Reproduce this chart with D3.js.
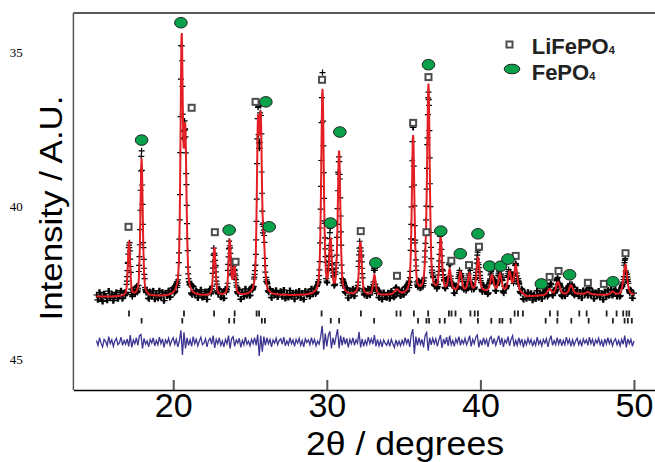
<!DOCTYPE html>
<html>
<head>
<meta charset="utf-8">
<script src="https://cdn.jsdelivr.net/npm/d3@7"></script>
<style>
  body { margin: 0; background: #fff; }
  text { font-family: "Liberation Sans", Arial, sans-serif; }
</style>
</head>
<body>
<div id="chart"></div>
<script>
  // peaks of the fitted profile: position (2theta), net height (counts), fwhm (deg)
  var peakPos    = [17.12, 17.94, 20.55, 20.78, 22.68, 23.68, 23.98, 25.52, 25.70, 25.90,
                    29.72, 30.24, 30.80, 32.19, 33.10, 34.55, 35.62, 36.45, 36.62, 37.42,
                    38.00, 38.70, 39.28, 39.85, 40.75, 41.28, 41.90, 42.30, 44.50, 45.05,
                    45.90, 47.00, 48.60, 49.44];
  var peakHeight = [102, 256, 464, 290, 89, 102, 52, 295, 295, 74,
                    381, 97, 266, 98, 37, 9, 293, 30, 381, 98,
                    39, 35, 32, 63, 30, 32, 35, 48, 11, 24,
                    17, 4, 6, 56];
  var peakWidth  = [0.17, 0.18, 0.18, 0.2, 0.18, 0.18, 0.18, 0.18, 0.18, 0.18,
                    0.2, 0.2, 0.2, 0.2, 0.2, 0.35, 0.2, 0.2, 0.2, 0.2,
                    0.22, 0.22, 0.22, 0.22, 0.24, 0.24, 0.24, 0.24, 0.3, 0.28,
                    0.28, 0.3, 0.3, 0.28];

  // background anchors
  var bgPos = [15, 20, 27, 33.5, 35, 37.7, 42.5, 43.0, 44, 46.5, 48, 50];
  var bgVal = [173, 173, 175, 175, 176, 182, 182, 173, 175, 178, 176, 176];

  // difference curve (obs - calc), 15.0 to 50.0 every 0.1 deg
  var diffVals = [
    3,-6,8,-2,-9,5,1,-7,10,-3,4,-8,2,7,-5,-1,9,-6,3,-4,
    6,-8,13,-10,4,-3,8,-6,12,14,-12,7,-4,2,-9,5,-2,8,-7,3,
    -5,9,-3,6,-10,4,-2,7,-6,3,8,-4,5,-9,2,22,-24,18,-12,8,
    -6,4,-8,10,-3,5,-7,2,9,-5,-2,6,-9,3,7,-4,12,-11,5,-3,
    8,-6,2,-9,5,-3,12,-12,6,10,-8,4,-2,7,-10,3,-5,9,-4,2,
    -7,5,-3,8,-6,14,-26,12,-18,10,-6,8,-3,5,-9,4,-2,7,-5,3,
    6,-4,9,-7,2,-5,8,-3,4,-8,5,-2,7,-6,3,-9,6,-1,4,-5,
    8,-3,5,-7,2,-4,10,30,-14,16,-8,12,20,-12,8,-5,10,24,-12,12,
    -6,9,-4,7,-10,5,-3,8,-6,4,-2,19,-10,6,-8,3,-5,9,-3,6,
    -4,13,-8,5,-7,3,-9,4,-2,-6,3,-8,5,-3,-10,4,-6,2,-7,3,
    -5,8,-3,6,-9,14,24,-22,10,-6,8,-4,5,-10,12,18,-16,8,-5,7,
    -3,6,-8,4,13,-11,6,-4,9,-7,12,-5,3,-8,6,-2,10,-6,4,-3,
    7,-5,2,12,-8,5,-3,9,13,-10,4,-6,8,-3,5,-9,6,10,-4,7,
    -6,3,12,-5,8,-9,4,-2,10,-7,5,12,-8,3,-6,8,-4,6,-10,3,
    -5,7,-3,5,-8,2,-6,9,-4,3,-7,5,-2,6,-9,4,12,-6,3,-5,
    8,-4,6,-7,3,-5,9,-3,5,-8,4,-6,2,7,-5,3,-8,6,-2,4,
    -6,9,-3,5,-8,4,-2,7,-5,3,-9,6,-4,8,-3,5,-7,2,6,-5,
    3,-7,5,-4,12,-10,6,-3,5,-8,2
  ];
  var diffOffset = 89;

  // reflection positions
  var liTicks = [17.12, 20.7, 22.66, 24.0, 25.43, 25.59, 29.66, 32.22, 34.54, 34.8,
                 35.67, 36.6, 37.95, 38.12, 38.38, 39.35, 39.63, 39.84, 42.23, 42.45,
                 42.77, 44.53, 45.03, 46.44, 46.92, 48.22, 48.87, 49.3, 49.52, 49.69];
  var fpTicks = [17.94, 20.59, 23.64, 23.97, 25.77, 25.97, 30.26, 30.8, 33.08, 35.94,
                 36.49, 36.66, 37.35, 37.68, 38.72, 39.84, 40.71, 41.25, 41.43, 41.97,
                 44.25, 45.01, 45.92, 47.05, 48.63, 49.39, 49.6, 49.86];

  // phase labels above peaks [2theta, counts]
  var liMarks = [[17.09, 303], [21.2, 524], [22.71, 293], [24.06, 238], [25.36, 535],
                 [29.69, 576], [32.21, 295], [34.57, 212], [35.62, 496], [36.62, 581],
                 [36.49, 293], [38.11, 240], [39.26, 232], [39.91, 266], [42.3, 249],
                 [44.51, 210], [45.09, 221], [47.0, 199], [48.04, 197], [49.45, 254]];
  var fpMarks = [[17.94, 464], [20.5, 682], [23.64, 297], [26.03, 535], [26.25, 303],
                 [30.24, 310], [30.85, 479], [33.19, 236], [36.62, 604], [37.42, 295],
                 [38.69, 253], [39.84, 290], [40.6, 230], [41.32, 230], [41.8, 243],
                 [43.97, 197], [45.81, 214], [48.63, 201]];

  var xTicks = [20, 30, 40, 50];
  var sideLabels = [35, 40, 45];

  var width = 655, height = 462;
  var svg = d3.select("#chart").append("svg")
      .attr("width", width)
      .attr("height", height);

  var x = d3.scaleLinear().domain([13.5, 51.37]).range([73.4, 655]);
  var y = d3.scaleLinear().domain([0, 700]).range([390, 13]);
  var bg = d3.scaleLinear().domain(bgPos).range(bgVal).clamp(true);

  function pv(d, w) {
    var r = d / w;
    return 0.5 / (1 + 4 * r * r) + 0.5 * Math.exp(-2.7726 * r * r);
  }
  function calc(t) {
    var s = bg(t);
    for (var i = 0; i < peakPos.length; i++) s += peakHeight[i] * pv(t - peakPos[i], peakWidth[i]);
    return s;
  }

  var grid = d3.range(0, 1751).map(function(i) { return 15 + i * 0.02; });
  var calcData = grid.map(function(t) { return [t, calc(t)]; });
  var obsData = grid.map(function(t) {
    return [t, calc(t) + diffVals[Math.round((t - 15) / 0.1)]];
  });
  var diffData = diffVals.map(function(v, i) { return [15 + i * 0.1, diffOffset + v]; });

  // frame
  svg.append("line").attr("x1", 73.4).attr("x2", 655).attr("y1", 13).attr("y2", 13)
    .attr("stroke", "#222").attr("stroke-width", 1.3);
  svg.append("line").attr("x1", 73.4).attr("x2", 73.4).attr("y1", 13).attr("y2", 390)
    .attr("stroke", "#555").attr("stroke-width", 1.5);

  // x axis
  var xAxis = svg.append("g")
    .attr("transform", "translate(0,390)")
    .call(d3.axisBottom(x).tickValues(xTicks).tickSizeInner(-10).tickSizeOuter(0).tickPadding(3));
  xAxis.select(".domain").attr("stroke", "#000").attr("stroke-width", 1.5);
  xAxis.selectAll(".tick line").attr("stroke", "#555").attr("stroke-width", 2);
  xAxis.selectAll(".tick text")
    .style("font-family", "'Liberation Sans', Arial, sans-serif")
    .style("font-size", "34px").attr("fill", "#000");

  // stray left labels
  var side = d3.scaleLinear().domain([35, 45]).range([52.8, 359.5]);
  svg.selectAll(".side").data(sideLabels).enter().append("text")
    .attr("x", 16.3).attr("y", function(d) { return side(d) + 4.5; })
    .attr("text-anchor", "middle")
    .style("font-family", "'Liberation Serif', 'Times New Roman', serif")
    .style("font-size", "13px")
    .text(function(d) { return d; });

  // titles
  svg.append("text")
    .attr("transform", "translate(62,208) rotate(-90)")
    .attr("text-anchor", "middle")
    .attr("textLength", 225).attr("lengthAdjust", "spacingAndGlyphs")
    .style("font-size", "31px")
    .text("Intensity / A.U.");
  svg.append("text")
    .attr("x", 405).attr("y", 454.5)
    .attr("text-anchor", "middle")
    .attr("textLength", 198).attr("lengthAdjust", "spacingAndGlyphs")
    .style("font-size", "33px")
    .text("2\u03b8 / degrees");

  // observed points as + markers
  var plus = obsData.map(function(d) {
    var px = x(d[0]), py = y(d[1]);
    return "M" + (px - 3) + "," + py + "h6M" + px + "," + (py - 3) + "v6";
  }).join("");
  svg.append("path").attr("d", plus).attr("stroke", "#000").attr("stroke-width", 1.2).attr("fill", "none");

  // calculated profile
  var line = d3.line().x(function(d) { return x(d[0]); }).y(function(d) { return y(d[1]); });
  svg.append("path").datum(calcData).attr("d", line)
    .attr("fill", "none").attr("stroke", "#e31e24").attr("stroke-width", 2);

  // difference curve
  svg.append("path").datum(diffData).attr("d", line)
    .attr("fill", "none").attr("stroke", "#3b3591").attr("stroke-width", 1.3);

  // reflection ticks
  svg.selectAll(".li-tick").data(liTicks).enter().append("rect")
    .attr("x", function(d) { return x(d) - 0.9; }).attr("y", 310.5)
    .attr("width", 1.8).attr("height", 6).attr("fill", "#222");
  svg.selectAll(".fp-tick").data(fpTicks).enter().append("rect")
    .attr("x", function(d) { return x(d) - 0.9; }).attr("y", 318)
    .attr("width", 1.8).attr("height", 5.5).attr("fill", "#222");

  // phase markers
  svg.selectAll(".li-mark").data(liMarks).enter().append("rect")
    .attr("x", function(d) { return x(d[0]) - 3; }).attr("y", function(d) { return y(d[1]) - 3; })
    .attr("width", 6).attr("height", 6)
    .attr("fill", "#fff").attr("stroke", "#4d4d4d").attr("stroke-width", 2);
  svg.selectAll(".fp-mark").data(fpMarks).enter().append("ellipse")
    .attr("cx", function(d) { return x(d[0]); }).attr("cy", function(d) { return y(d[1]); })
    .attr("rx", 6.3).attr("ry", 5.3)
    .attr("fill", "#0aa14b").attr("stroke", "#222").attr("stroke-width", 1);

  // legend
  svg.append("rect").attr("x", 506.5).attr("y", 41.5).attr("width", 6).attr("height", 6)
    .attr("fill", "#fff").attr("stroke", "#4d4d4d").attr("stroke-width", 2);
  var t1 = svg.append("text").attr("x", 531.7).attr("y", 54)
    .style("font-size", "22px").style("font-weight", "bold").attr("fill", "#222");
  t1.append("tspan").text("LiFePO");
  t1.append("tspan").style("font-size", "11px").text("4");
  svg.append("ellipse").attr("cx", 512).attr("cy", 69).attr("rx", 7.8).attr("ry", 4.8)
    .attr("fill", "#0aa14b").attr("stroke", "#222").attr("stroke-width", 1);
  var t2 = svg.append("text").attr("x", 531.7).attr("y", 80)
    .style("font-size", "22px").style("font-weight", "bold").attr("fill", "#222");
  t2.append("tspan").text("FePO");
  t2.append("tspan").style("font-size", "11px").text("4");
</script>
</body>
</html>
